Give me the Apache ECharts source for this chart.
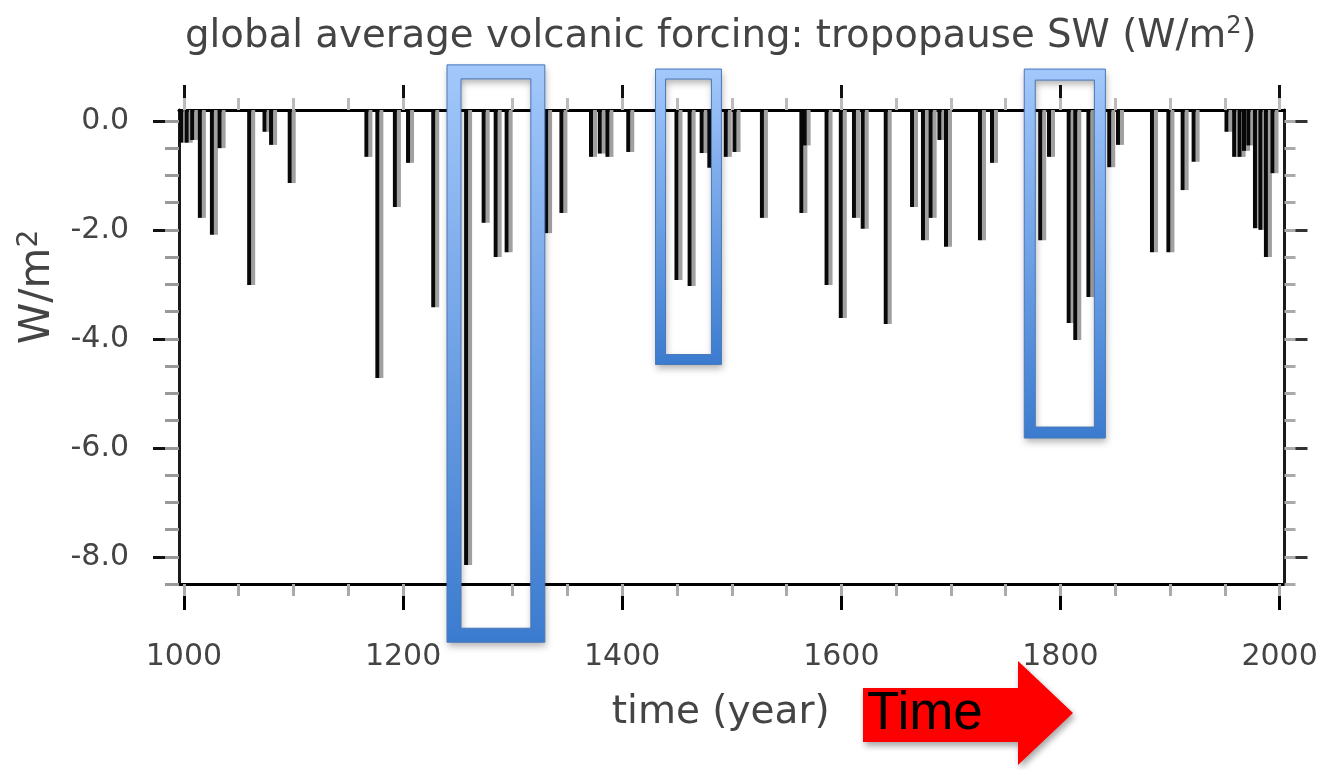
<!DOCTYPE html>
<html>
<head>
<meta charset="utf-8">
<title>global average volcanic forcing</title>
<script src="https://cdn.jsdelivr.net/npm/echarts@6/dist/echarts.min.js"></script>
<style>
html, body { margin: 0; padding: 0; background: #fff; }
#chart { width: 1322px; height: 770px; }
</style>
</head>
<body>
<div id="chart"></div>
<script>
// eruption years and tropopause SW forcing (W/m2)
var years = [998, 1003, 1008, 1015, 1026, 1033, 1060, 1074, 1080, 1097,
  1167, 1177, 1193, 1205, 1228, 1258, 1274, 1285, 1295, 1331,
  1345, 1372, 1380, 1387, 1406, 1450, 1462, 1473, 1480, 1495,
  1503, 1528, 1564, 1567, 1587, 1600, 1612, 1620, 1641, 1665,
  1675, 1682, 1690, 1696, 1727, 1738, 1782, 1790, 1808, 1814,
  1826, 1845, 1853, 1884, 1899, 1912, 1922, 1952, 1959, 1964,
  1968, 1972, 1978, 1983, 1988, 1994];
var forcing = [-0.4, -0.4, -0.35, -1.78, -2.09, -0.5, -3.01, -0.2, -0.44, -1.14,
  -0.66, -4.72, -1.58, -0.77, -3.42, -8.15, -1.87, -2.5, -2.41, -2.06,
  -1.69, -0.66, -0.6, -0.66, -0.57, -2.92, -3.03, -0.59, -0.86, -0.66,
  -0.57, -1.78, -1.69, -0.45, -3.01, -3.62, -1.78, -1.98, -3.73, -1.58,
  -2.19, -1.78, -0.35, -2.31, -2.19, -0.77, -2.19, -0.66, -3.71, -4.02,
  -3.23, -0.85, -0.44, -2.41, -2.41, -1.27, -0.75, -0.2, -0.66, -0.66,
  -0.55, -0.45, -1.97, -2.0, -2.5, -0.96];

var yLabelTicks = [0, -2, -4, -6, -8];
var yMinorTicks = [0, -0.5, -1, -1.5, -2, -2.5, -3, -3.5, -4, -4.5, -5, -5.5,
  -6, -6.5, -7, -7.5, -8, -8.5];
var xLabelTicks = [1000, 1200, 1400, 1600, 1800, 2000];
var xMinorTicks = [1000, 1050, 1100, 1150, 1200, 1250, 1300, 1350, 1400, 1450,
  1500, 1550, 1600, 1650, 1700, 1750, 1800, 1850, 1900, 1950, 2000];

var xMin = 995.5, xMax = 2004.5;
var yMin = -8.5, yMax = 0.2;   // bars hang from the top of the frame

// highlighted periods: start year, end year, top, bottom
var boxStart = [1246.5, 1435, 1772];
var boxEnd = [1323, 1486, 1836];
var boxTop = [0.9, 0.86, 0.85];
var boxBottom = [-9.44, -4.38, -5.72];
var boxLineWidths = [14, 10, 11];

var barData = years.map(function (y, i) { return [y, forcing[i]]; });
var boxData = boxStart.map(function (s, i) { return [s, boxEnd[i], boxTop[i], boxBottom[i]]; });

var textFont = 'DejaVu Sans';
var textColor = '#444';

function makeX(pos, ticks, len, color, isMain) {
  return {
    type: 'value', min: xMin, max: xMax, position: pos,
    axisLine: { show: isMain, onZero: false, lineStyle: { color: '#000', width: 3 } },
    axisTick: { show: true, customValues: ticks, length: len, lineStyle: { color: color, width: 3 } },
    axisLabel: { show: false },
    splitLine: { show: false }
  };
}
function makeY(pos, ticks, len, color, isMain) {
  return {
    type: 'value', min: yMin, max: yMax, position: pos,
    axisLine: { show: isMain, onZero: false, lineStyle: { color: '#1a1a1a', width: 3 } },
    axisTick: { show: true, customValues: ticks, length: len, lineStyle: { color: color, width: 3 } },
    axisLabel: { show: false },
    splitLine: { show: false }
  };
}

var xAxes = [
  makeX('bottom', xLabelTicks, 26, '#000', true),
  makeX('bottom', xMinorTicks, 12, '#aaa', false),
  makeX('top', xLabelTicks, 25, '#111', true),
  makeX('top', xMinorTicks, 12, '#bbb', false)
];
xAxes[0].axisLabel = {
  show: true, customValues: xLabelTicks, margin: 58,
  fontFamily: textFont, fontSize: 30, color: textColor,
  formatter: function (v) { return String(v); }
};
xAxes[0].name = 'time (year)';
xAxes[0].nameLocation = 'middle';
xAxes[0].nameGap = 109;
xAxes[0].nameTextStyle = { fontFamily: textFont, fontSize: 39, color: textColor, padding: [0, 22, 0, 0] };

var yAxes = [
  makeY('left', yLabelTicks, 26, '#111', true),
  makeY('left', yMinorTicks, 14, '#999', false),
  makeY('right', yLabelTicks, 23, '#333', true),
  makeY('right', yMinorTicks, 11, '#aaa', false)
];
yAxes[0].axisLabel = {
  show: true, customValues: yLabelTicks, margin: 50,
  fontFamily: textFont, fontSize: 30, color: textColor,
  formatter: function (v) { return v.toFixed(1); }
};
yAxes[0].name = '{t|W/m}{s|2}';
yAxes[0].nameLocation = 'middle';
yAxes[0].nameGap = 97;
yAxes[0].nameTextStyle = {
  padding: [0, 0, 0, 120],
  rich: {
    t: { fontFamily: textFont, fontSize: 42, color: textColor, lineHeight: 46 },
    s: { fontFamily: textFont, fontSize: 28, color: textColor, verticalAlign: 'top' }
  }
};

function renderBar(params, api) {
  var top = api.coord([api.value(0), yMax]);
  var bottom = api.coord([api.value(0), api.value(1)]);
  var h = bottom[1] - top[1];
  return {
    type: 'group',
    children: [
      { type: 'rect', shape: { x: top[0] + 1.5, y: top[1], width: 4, height: h }, style: { fill: '#a0a0a0' } },
      { type: 'rect', shape: { x: top[0] - 2.5, y: top[1], width: 4, height: h }, style: { fill: '#080808' } }
    ]
  };
}

function renderBox(params, api) {
  var a = api.coord([api.value(0), api.value(2)]);
  var b = api.coord([api.value(1), api.value(3)]);
  var w = boxLineWidths[params.dataIndex];
  var rw = b[0] - a[0], rh = b[1] - a[1];
  return {
    type: 'group',
    children: [
      {
        type: 'rect',
        shape: { x: a[0], y: a[1], width: rw, height: rh },
        style: {
          fill: 'none', lineWidth: w,
          stroke: new echarts.graphic.LinearGradient(0, 0, 0, 1, [
            { offset: 0, color: '#a3c8fb' },
            { offset: 1, color: '#3b7bcf' }
          ]),
          shadowBlur: 7, shadowOffsetX: 1, shadowOffsetY: 4, shadowColor: 'rgba(0,0,0,0.3)'
        }
      },
      {
        type: 'rect',
        shape: { x: a[0] - w / 2, y: a[1] - w / 2, width: rw + w, height: rh + w },
        style: { fill: 'none', stroke: '#4878b8', lineWidth: 1 }
      },
      {
        type: 'rect',
        shape: { x: a[0] + w / 2, y: a[1] + w / 2, width: rw - w, height: rh - w },
        style: { fill: 'none', stroke: '#4878b8', lineWidth: 1 }
      }
    ]
  };
}

var chart = echarts.init(document.getElementById('chart'));
var option = {
  backgroundColor: '#fff',
  animation: false,
  title: {
    text: '{t|global average volcanic forcing: tropopause SW (W/m}{s|2}{t|)}',
    left: 185, top: 15, padding: 0,
    textStyle: {
      fontWeight: 'normal',
      rich: {
        t: { fontFamily: textFont, fontSize: 38.7, fontWeight: 'normal', color: textColor, lineHeight: 44 },
        s: { fontFamily: textFont, fontSize: 24, fontWeight: 'normal', color: textColor, verticalAlign: 'top' }
      }
    }
  },
  grid: { left: 179, top: 110, right: 37.5, bottom: 186 },
  xAxis: xAxes,
  yAxis: yAxes,
  series: [
    {
      name: 'forcing', type: 'custom', renderItem: renderBar,
      xAxisIndex: 0, yAxisIndex: 0, clip: false, z: 3,
      encode: { x: 0, y: 1 }, data: barData
    },
    {
      name: 'highlight', type: 'custom', renderItem: renderBox,
      xAxisIndex: 0, yAxisIndex: 0, clip: false, z: 6,
      encode: { x: [0, 1], y: [2, 3] }, data: boxData
    }
  ],
  graphic: [
    {
      type: 'polygon', z: 10,
      shape: { points: [[863, 688], [1018, 688], [1018, 661], [1073, 713], [1018, 765], [1018, 742], [863, 742]] },
      style: { fill: '#ff0000', shadowBlur: 6, shadowOffsetX: 2, shadowOffsetY: 4, shadowColor: 'rgba(0,0,0,0.35)' }
    },
    {
      type: 'text', z: 11, x: 867, y: 714,
      style: { text: 'Time', fill: '#000', font: '53px "Liberation Sans"', verticalAlign: 'middle' }
    }
  ]
};
chart.setOption(option);
</script>
</body>
</html>
